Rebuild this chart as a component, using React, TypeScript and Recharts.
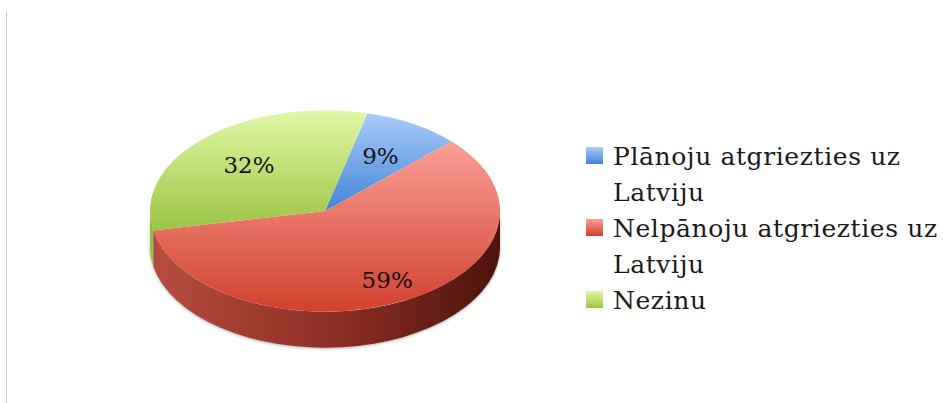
import { Cell, Legend, Pie, PieChart, Tooltip } from 'recharts'

const answers = ['Plānoju atgriezties uz Latviju', 'Nelpānoju atgriezties uz Latviju', 'Nezinu']
const shares = [9, 59, 32]

const data = answers.map((name, i) => ({ name, value: shares[i] }))

// top face gradient (light -> dark), side wall gradient (left -> right)
const TOP = [
  ['#a9ccf8', '#4384d6'],
  ['#fb9f98', '#d2402c'],
  ['#e1f8a6', '#9bc444'],
]
const SIDE = [
  ['#4f86cf', '#2a5a9c', '#173766'],
  ['#b84d41', '#8b2d21', '#4b140c'],
  ['#98bb45', '#76962f', '#4b621c'],
]

const TILT = 0.575
const DEPTH = 36
const FONT = '"DejaVu Serif", "Liberation Serif", serif'

function Slice3D(props: any) {
  const { cx, cy, outerRadius, startAngle, endAngle, index } = props
  const rx = outerRadius
  const ry = outerRadius * TILT
  const pt = (deg: number, dy = 0) => {
    const a = (deg * Math.PI) / 180
    return `${cx + rx * Math.cos(a)},${cy - ry * Math.sin(a) + dy}`
  }
  const hi = Math.max(startAngle, endAngle)
  const lo = Math.min(startAngle, endAngle)
  const large = hi - lo > 180 ? 1 : 0
  const top = `M${cx},${cy} L${pt(hi)} A${rx},${ry} 0 ${large} 1 ${pt(lo)} Z`

  // front part of the rim (lower half of the ellipse) gets a side wall
  const sides: string[] = []
  for (let k = -3; k <= 3; k++) {
    const s = Math.max(lo, -180 + 360 * k)
    const e = Math.min(hi, 360 * k)
    if (e - s > 0.01) {
      sides.push(
        `M${pt(e)} A${rx},${ry} 0 0 1 ${pt(s)} L${pt(s, DEPTH)} A${rx},${ry} 0 0 0 ${pt(e, DEPTH)} Z`,
      )
    }
  }

  const i = index ?? 0
  return (
    <g>
      <defs>
        <linearGradient id={`top-${i}`} x1="0" y1="0" x2="0" y2="1">
          <stop offset="0%" stopColor={TOP[i][0]} />
          <stop offset="100%" stopColor={TOP[i][1]} />
        </linearGradient>
        <linearGradient id={`side-${i}`} gradientUnits="userSpaceOnUse" x1={cx - rx} y1={0} x2={cx + rx} y2={0}>
          <stop offset="0%" stopColor={SIDE[i][0]} />
          <stop offset="55%" stopColor={SIDE[i][1]} />
          <stop offset="100%" stopColor={SIDE[i][2]} />
        </linearGradient>
      </defs>
      {sides.map((d, j) => (
        <path key={j} d={d} fill={`url(#side-${i})`} style={{ filter: 'drop-shadow(0 1px 1.5px rgba(0,0,0,0.3))' }} />
      ))}
      <path d={top} fill={`url(#top-${i})`} />
    </g>
  )
}

const renderLabel = (props: any) => {
  const { cx, cy, midAngle, outerRadius, percent } = props
  const a = (midAngle * Math.PI) / 180
  const down = Math.max(0, -Math.sin(a))
  const r = outerRadius * (0.63 + 0.16 * down)
  const x = cx + r * Math.cos(a)
  const y = cy - r * TILT * Math.sin(a)
  return (
    <text x={x} y={y} textAnchor="middle" dominantBaseline="central" fontFamily={FONT} fontSize={23} fill="#111">
      {`${Math.round(percent * 100)}%`}
    </text>
  )
}

const renderLegend = ({ payload }: any) => {
  const items = [...(payload ?? [])].sort((a: any, b: any) => answers.indexOf(a.value) - answers.indexOf(b.value))
  return (
    <div style={{ fontFamily: FONT, fontSize: 25, lineHeight: '36px', letterSpacing: 0.6, color: '#1a1a1a', width: 372 }}>
      {items.map((entry: any) => {
        const i = answers.indexOf(entry.value)
        return (
          <div key={entry.value} style={{ display: 'flex', alignItems: 'flex-start' }}>
            <span
              style={{
                width: 17,
                height: 17,
                marginTop: 8,
                marginRight: 10,
                flex: 'none',
                background: `linear-gradient(${TOP[i][0]}, ${TOP[i][1]})`,
              }}
            />
            <span style={{ width: 345 }}>{entry.value}</span>
          </div>
        )
      })}
    </div>
  )
}

export default function App() {
  return (
    <div style={{ position: 'absolute', left: 0, top: 0, width: 943, height: 403, background: '#fff', overflow: 'hidden' }}>
      <div style={{ position: 'absolute', left: 6, top: 12, width: 1, height: 391, background: '#c6c6c6' }} />
      <PieChart width={943} height={403} margin={{ top: 0, right: 0, bottom: 0, left: 0 }}>
        <Pie
          data={data}
          dataKey="value"
          nameKey="name"
          cx={325}
          cy={211}
          outerRadius={175}
          startAngle={76}
          endAngle={-284}
          stroke="none"
          shape={Slice3D}
          activeShape={Slice3D}
          inactiveShape={Slice3D}
          label={renderLabel}
          labelLine={false}
          isAnimationActive={false}
        >
          {data.map((d, i) => (
            <Cell key={d.name} fill={TOP[i][1]} />
          ))}
        </Pie>
        <Tooltip defaultIndex={0} content={() => null} />
        <Legend
          layout="vertical"
          align="right"
          verticalAlign="top"
          itemSorter={null}
          content={renderLegend}
          wrapperStyle={{ left: 586, top: 139, width: 372 }}
        />
      </PieChart>
    </div>
  )
}
